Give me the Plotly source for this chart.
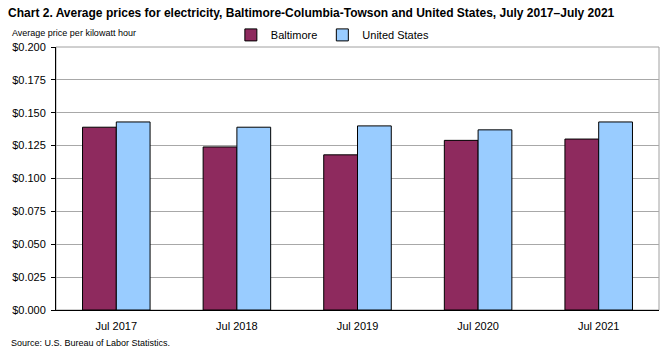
import plotly.graph_objects as go

categories = ["Jul 2017", "Jul 2018", "Jul 2019", "Jul 2020", "Jul 2021"]
baltimore = [0.139, 0.124, 0.118, 0.129, 0.130]
united_states = [0.143, 0.139, 0.140, 0.137, 0.143]
tick_vals = [0.0, 0.025, 0.05, 0.075, 0.1, 0.125, 0.15, 0.175, 0.2]
tick_text = ["$%.3f" % v for v in tick_vals]

FONT = "Liberation Sans, Arial, sans-serif"

fig = go.Figure()
fig.add_trace(go.Bar(name="Baltimore", x=categories, y=baltimore,
                     marker=dict(color="#8E2A5E", line=dict(color="#000000", width=1))))
fig.add_trace(go.Bar(name="United States", x=categories, y=united_states,
                     marker=dict(color="#99CCFF", line=dict(color="#000000", width=1))))

fig.update_layout(
    width=672, height=351,
    margin=dict(l=54, r=13, t=47, b=41),
    paper_bgcolor="white", plot_bgcolor="white",
    barmode="group", bargap=0.44, bargroupgap=0,
    font=dict(family=FONT, size=11, color="#000000"),
    title=dict(text="<b>Chart 2. Average prices for electricity, Baltimore-Columbia-Towson and United States, July 2017\u2013July 2021</b>",
               x=0.012, xanchor="left", y=0.975, yanchor="top",
               font=dict(family=FONT, size=12)),
    legend=dict(orientation="h", x=0.29, xanchor="left", y=1.046, yanchor="middle",
                font=dict(family=FONT, size=11), bgcolor="rgba(0,0,0,0)",
                itemwidth=30, traceorder="normal"),
    showlegend=True,
    xaxis=dict(showline=True, linecolor="#000000", linewidth=1, mirror=False,
               ticks="", tickfont=dict(size=11), showgrid=False, ticklabelstandoff=6),
    yaxis=dict(range=[0, 0.2], tickvals=tick_vals, ticktext=tick_text,
               showline=True, linecolor="#000000", linewidth=1,
               ticks="outside", ticklen=4, tickcolor="#000000", ticklabelstandoff=3,
               showgrid=True, gridcolor="#a8a8a8", gridwidth=1,
               tickfont=dict(size=11), zeroline=False),
    shapes=[dict(type="rect", xref="paper", yref="paper", x0=0, y0=0, x1=1, y1=1,
                 line=dict(color="#a0a0a0", width=1), layer="below")],
    annotations=[
        dict(text="Average price per kilowatt hour", xref="paper", yref="paper",
             x=-0.076, y=1.053, xanchor="left", yanchor="middle", showarrow=False,
             font=dict(family=FONT, size=9)),
        dict(text="Source: U.S. Bureau of Labor Statistics.", xref="paper", yref="paper",
             x=-0.078, y=-0.1, xanchor="left", yanchor="top", showarrow=False,
             font=dict(family=FONT, size=9)),
    ],
)

fig.write_html("out.html")
